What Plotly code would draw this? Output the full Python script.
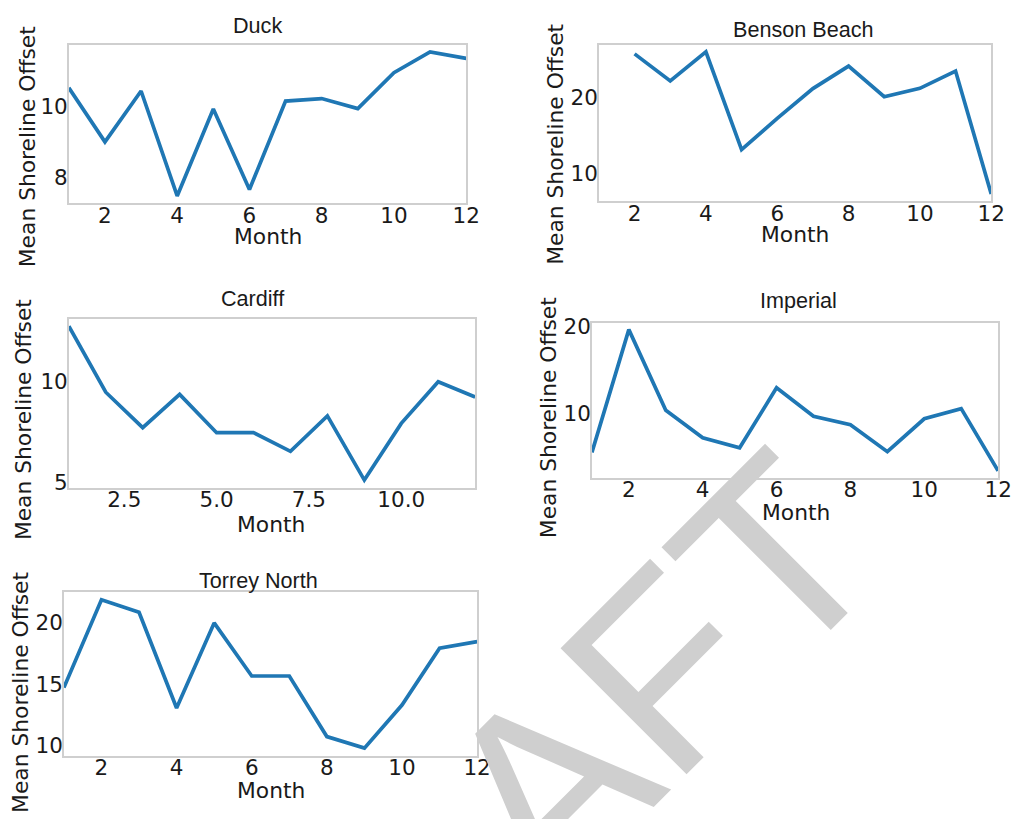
import plotly.graph_objects as go

# Monthly mean shoreline offset per site
months = list(range(1, 13))

duck = [10.51, 9.00, 10.42, 7.49, 9.92, 7.67, 10.14, 10.21, 9.93, 10.93, 11.51, 11.33]
benson_beach = [None, 25.74, 22.17, 26.00, 13.13, 17.26, 21.17, 24.13, 20.10, 21.20, 23.48, 7.30]
cardiff = [12.72, 9.46, 7.71, 9.35, 7.46, 7.46, 6.54, 8.29, 5.12, 7.92, 9.98, 9.22]
imperial = [5.58, 19.62, 10.39, 7.25, 6.10, 12.96, 9.70, 8.73, 5.66, 9.42, 10.58, 3.47]
torrey_north = [14.73, 21.89, 20.86, 13.06, 20.00, 15.67, 15.67, 10.73, 9.79, 13.30, 17.94, 18.47]

site_names = ["Duck", "Benson Beach", "Cardiff", "Imperial", "Torrey North"]
site_values = [duck, benson_beach, cardiff, imperial, torrey_north]

x_tickvals = [
    [2, 4, 6, 8, 10, 12],
    [2, 4, 6, 8, 10, 12],
    [2.5, 5.0, 7.5, 10.0],
    [2, 4, 6, 8, 10, 12],
    [2, 4, 6, 8, 10, 12],
]
y_tickvals = [[8, 10], [10, 20], [5, 10], [10, 20], [10, 15, 20]]

W, H = 1014, 819

# Panel boxes in pixels: (left, top, right, bottom)
boxes = [
    (69.8, 36.5, 472.7, 198.0),
    (607.3, 36.5, 1005.1, 195.9),
    (69.8, 315.7, 481.8, 488.3),
    (600.2, 319.8, 1012.1, 478.2),
    (64.8, 594.9, 483.8, 761.4),
]
# Text placements in pixels: title centre, x-label centre, y-label centre
title_pos = [(261.1, 17.3), (813.8, 20.4), (256.1, 295.5), (809.7, 297.0), (262.1, 582.5)]
xlabel_pos = [(271.3, 232.5), (805.7, 230.0), (275.3, 525.5), (806.7, 513.7), (274.3, 797.0)]
ylabel_pos = [(27.3, 140.0), (563.8, 138.5), (23.3, 418.3), (555.7, 417.3), (21.3, 697.5)]


def fx(p):
    return p / W


def fy(p):
    return 1 - p / H


LINE_BLUE = "#1f77b4"
FRAME = "#cfcfcf"
TEXT = "#1a1a1a"
TICK_FONT = dict(family="DejaVu Sans", size=21.5, color=TEXT)
LABEL_FONT = dict(family="DejaVu Sans", size=21.8, color=TEXT)
TITLE_FONT = dict(family="Liberation Sans", size=21.6, color=TEXT)

fig = go.Figure()
annotations = []

for i, (name, vals) in enumerate(zip(site_names, site_values)):
    n = "" if i == 0 else str(i + 1)
    xa, ya = "x" + n, "y" + n
    fig.add_trace(
        go.Scatter(
            x=months,
            y=vals,
            mode="lines",
            line=dict(color=LINE_BLUE, width=3.7),
            xaxis=xa,
            yaxis=ya,
            showlegend=False,
            connectgaps=False,
        )
    )
    clean = [v for v in vals if v is not None]
    lo, hi = min(clean), max(clean)
    pad = 0.05 * (hi - lo)
    l, t, r, b = boxes[i]
    xfmt = ".1f" if i == 2 else "d"
    fig.update_layout(
        {
            "xaxis" + n: dict(
                domain=[fx(l), fx(r)],
                anchor=ya,
                range=[1, 12],
                tickvals=x_tickvals[i],
                tickformat=xfmt,
                showgrid=False,
                zeroline=False,
                showline=True,
                mirror=True,
                linecolor=FRAME,
                linewidth=1.5,
                ticks="",
                ticklabelstandoff=-8,
                tickfont=TICK_FONT,
            ),
            "yaxis" + n: dict(
                domain=[fy(b), fy(t)],
                anchor=xa,
                range=[lo - pad, hi + pad],
                tickvals=y_tickvals[i],
                showgrid=False,
                zeroline=False,
                showline=True,
                mirror=True,
                linecolor=FRAME,
                linewidth=1.5,
                ticks="",
                ticklabelstandoff=-5,
                tickfont=TICK_FONT,
            ),
        }
    )
    tx, ty = title_pos[i]
    annotations.append(
        dict(
            text=name, x=fx(tx), y=fy(ty), xref="paper", yref="paper",
            xanchor="center", yanchor="middle", showarrow=False,
            font=TITLE_FONT,
        )
    )
    mx, my = xlabel_pos[i]
    annotations.append(
        dict(
            text="Month", x=fx(mx), y=fy(my), xref="paper", yref="paper",
            xanchor="center", yanchor="middle", showarrow=False,
            font=LABEL_FONT,
        )
    )
    lx, ly = ylabel_pos[i]
    annotations.append(
        dict(
            text="Mean Shoreline Offset", x=fx(lx), y=fy(ly), xref="paper", yref="paper",
            xanchor="center", yanchor="middle", showarrow=False, textangle=-90,
            font=LABEL_FONT,
        )
    )

# Diagonal watermark
annotations.append(
    dict(
        text="DRAFT", x=fx(534.0), y=fy(814.2), xref="paper", yref="paper",
        xanchor="center", yanchor="middle", showarrow=False, textangle=-45,
        font=dict(family="Liberation Sans", size=259, color="#cfcfcf"),
    )
)

fig.update_layout(
    width=W,
    height=H,
    margin=dict(l=0, r=0, t=0, b=0),
    paper_bgcolor="white",
    plot_bgcolor="white",
    annotations=annotations,
)

fig.write_html("out.html")
